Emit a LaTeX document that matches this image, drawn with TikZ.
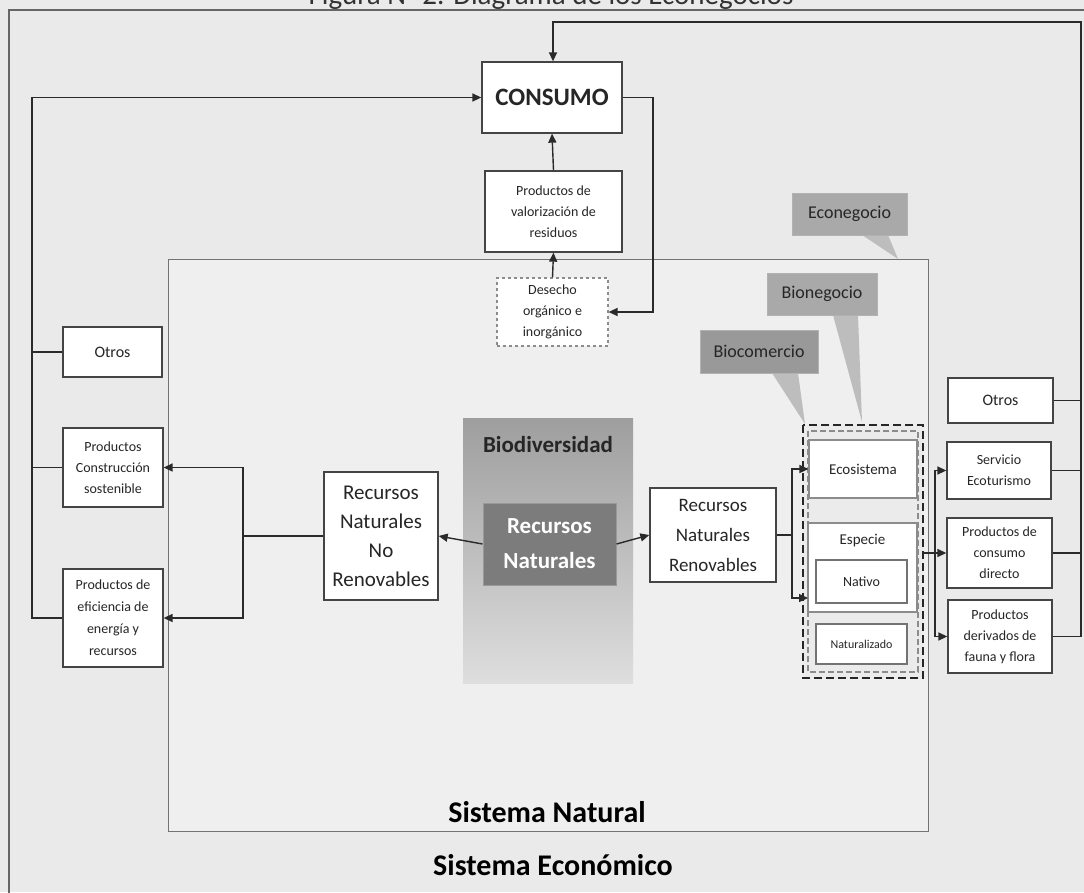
\documentclass[tikz,border=0pt]{standalone}
\usepackage{fontspec}
\setmainfont{Carlito}
\usetikzlibrary{arrows.meta,calc}
\definecolor{bgc}{HTML}{EAEAEA}
\definecolor{natc}{HTML}{EFEFEF}
\definecolor{linec}{HTML}{2A2A2A}
\definecolor{boxc}{HTML}{444444}
\definecolor{callc}{HTML}{A9A9A9}
\definecolor{tipc}{HTML}{BDBDBD}
\definecolor{rnc}{HTML}{7C7C7C}
\tikzset{
  box/.style={draw=boxc, line width=1.3pt, fill=white, align=center, inner sep=0pt, text=black!85},
  gbox/.style={draw=black!45, line width=1.1pt, fill=white, align=center, inner sep=0pt, text=black!85},
  conn/.style={draw=linec, line width=1.4pt},
  arr/.style={conn, -{Triangle[length=9pt,width=8pt]}},
  callout/.style={fill=callc, draw=black!30, line width=0.6pt, align=center, inner sep=0pt, text=black!85},
  f14/.style={font=\fontsize{14}{21}\selectfont},
  f16/.style={font=\fontsize{16}{21}\selectfont},
}
\begin{document}
\begin{tikzpicture}[x=1pt,y=-1pt]
\useasboundingbox (0,0) rectangle (1084,892);
\fill[bgc] (0,0) rectangle (1084,892);
% title (cut at top, as in the reference)
\node[anchor=base, font=\fontsize{29}{30}\selectfont, text=black!80, inner sep=0pt] (title) at (551,4) {Figura N° 2. Diagrama de los Econegocios};
% outer frame (Sistema Economico)
\draw[draw=black!60, line width=1.2pt] (9,900) -- (9,10) -- (1090,10);
% inner frame (Sistema Natural)
\draw[draw=black!55, line width=1pt, fill=natc] (168,259) rectangle (928,831);
\node[font=\bfseries\fontsize{30}{32}\selectfont] (snat) at (547,812) {Sistema Natural};
\node[font=\bfseries\fontsize{30}{32}\selectfont] (seco) at (553,865) {Sistema Económico};

% consumo column
\node[box, minimum width=140pt, minimum height=71pt, font=\bfseries\fontsize{25}{28}\selectfont] (consumo) at (552,97.5) {CONSUMO};
\node[box, f14, minimum width=137pt, minimum height=81pt] (valor) at (553.5,211.5) {Productos de\\valorización de\\residuos};
\node[box, f14, draw=black!45, dashed, line width=1.2pt, minimum width=111pt, minimum height=68pt] (desecho) at (552.5,312) {Desecho\\orgánico e\\inorgánico};

% left boxes
\node[box, f16, minimum width=99pt, minimum height=50pt] (otrosL) at (112.5,352) {Otros};
\node[box, f14, minimum width=100pt, minimum height=79pt] (constr) at (113,467.5) {Productos\\Construcción\\sostenible};
\node[box, minimum width=100pt, minimum height=98pt, font=\fontsize{14}{22}\selectfont] (efic) at (113,618) {Productos de\\eficiencia de\\energía y\\recursos};

% centre
\shade[top color=black!38, bottom color=black!13] (463,418) rectangle (633,683);
\node[font=\bfseries\fontsize{23}{26}\selectfont, text=black!85] (biodiv) at (548,445) {Biodiversidad};
\node[fill=rnc, draw=black!40, line width=1pt, minimum width=133pt, minimum height=82pt, inner sep=0pt, align=center, text=white, font=\bfseries\fontsize{23}{35}\selectfont] (rn) at (549.5,544) {Recursos\\Naturales};
\node[box, minimum width=114pt, minimum height=128pt, font=\fontsize{21}{29}\selectfont] (noren) at (381,536) {Recursos\\Naturales\\No\\Renovables};
\node[box, minimum width=126pt, minimum height=94pt, font=\fontsize{19}{30}\selectfont] (ren) at (713,535) {Recursos\\Naturales\\Renovables};

% dashed group
\fill[black!8] (803,425) rectangle (923,678);
\draw[draw=black!45, dashed, line width=1.2pt, dash pattern=on 6pt off 3pt] (808,431) rectangle (918,672);
\node[gbox, minimum width=108pt, minimum height=58pt, font=\fontsize{15}{18}\selectfont] (eco) at (863,469) {Ecosistema};
\node[gbox, minimum width=109pt, minimum height=89pt] (especie) at (862.5,567.5) {};
\node[font=\fontsize{15}{18}\selectfont, text=black!85] (especieL) at (862.5,541) {Especie};
\draw[draw=black!45, dashed, line width=1.2pt, dash pattern=on 6pt off 3pt] (808,612) -- (918,612);
\node[box, draw=black!55, line width=1.6pt, minimum width=91pt, minimum height=43pt, font=\fontsize{14}{18}\selectfont] (nativo) at (861.5,581.5) {Nativo};
\node[box, draw=black!55, line width=1.6pt, minimum width=91pt, minimum height=40pt, font=\fontsize{12}{16}\selectfont] (natur) at (861.5,644) {Naturalizado};
\draw[draw=black!85, line width=2.2pt, dash pattern=on 8pt off 4pt] (803,425) rectangle (923,678);
\coordinate (dgE) at (923,553);
\coordinate (espW) at (808,598);

% right boxes
\node[box, f16, minimum width=105pt, minimum height=45pt] (otrosR) at (1000.5,400.5) {Otros};
\node[box, f14, minimum width=104pt, minimum height=57pt] (serv) at (999,470.5) {Servicio\\Ecoturismo};
\node[box, f14, minimum width=105pt, minimum height=70pt] (cdir) at (999.5,553) {Productos de\\consumo\\directo};
\node[box, f14, minimum width=104pt, minimum height=73pt] (deriv) at (1000,636.5) {Productos\\derivados de\\fauna y flora};

% callouts
\fill[tipc] (862,235) -- (888,235) -- (898,259) -- cycle;
\node[callout, minimum width=115pt, minimum height=42pt, font=\fontsize{18}{22}\selectfont] (econ) at (849.5,214) {Econegocio};
\fill[tipc] (833,315) -- (858,315) -- (862,422) -- cycle;
\node[callout, minimum width=110pt, minimum height=42pt, font=\fontsize{18}{22}\selectfont] (bion) at (822,294) {Bionegocio};
\fill[tipc] (772,373) -- (798,373) -- (805,424) -- cycle;
\node[callout, fill=black!40, minimum width=118pt, minimum height=43pt, font=\fontsize{18}{22}\selectfont] (bioc) at (759,351.5) {Biocomercio};

% connectors: consumo column
\draw[arr] (valor.north) -- (consumo.south);
\draw[arr] (desecho.north) -- (valor.south);
\draw[arr] (consumo.east) -- (653,97.5) |- (desecho.east);
% top feedback from right
\draw[arr] (deriv.east) -- (1081,636.5) |- (553,22) -- (consumo.north -| 553,0);
\draw[conn] (otrosR.east) -- (1081,400.5);
\draw[conn] (serv.east) -- (1081,470.5);
\draw[conn] (cdir.east) -- (1081,553);
% left feedback
\draw[arr] (efic.west) -- (32,618) |- (consumo.west);
\draw[conn] (otrosL.west) -- (32,352);
\draw[conn] (constr.west) -- (32,467.5);
% centre
\draw[arr] (rn.west) -- (noren.east);
\draw[arr] (rn.east) -- (ren.east -| ren.west);
\draw[conn] (noren.west) -- (243,536);
\draw[arr] (243,536) |- (constr.east);
\draw[arr] (243,536) |- (efic.east);
\draw[conn] (ren.east) -- (792,535);
\draw[arr] (792,535) |- (eco.west);
\draw[arr] (792,535) |- (espW);
% right bus
\draw[arr] (dgE) -- (cdir.west);
\draw[arr] (935,553) |- (serv.west);
\draw[arr] (935,553) |- (deriv.west);
\end{tikzpicture}
\end{document}
